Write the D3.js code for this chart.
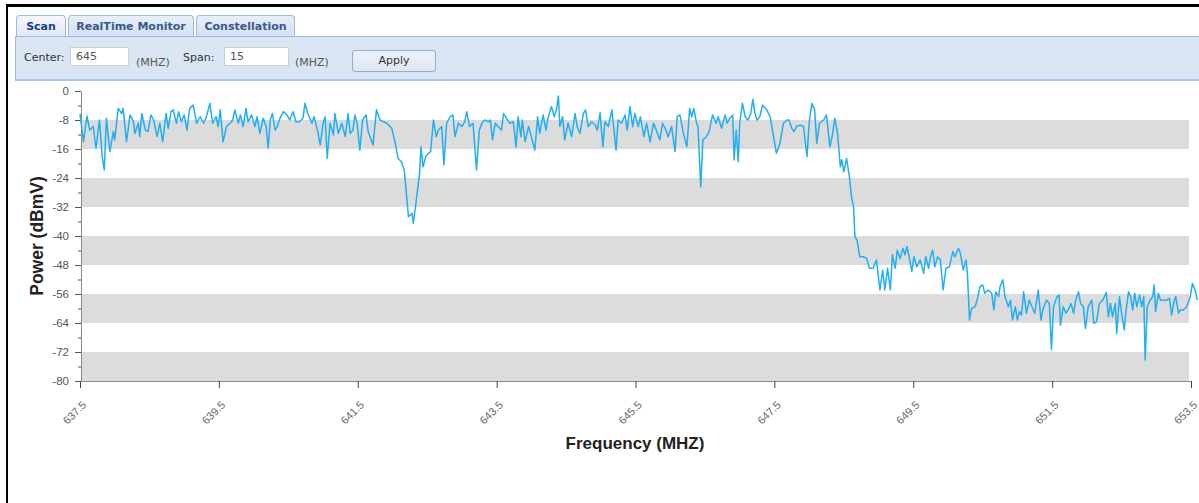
<!DOCTYPE html>
<html>
<head>
<meta charset="utf-8">
<script src="https://cdn.jsdelivr.net/npm/d3@7"></script>
<style>
  body { margin: 0; background: #fff; width: 1199px; height: 503px; overflow: hidden; position: relative; font-family: "DejaVu Sans", Verdana, sans-serif; }
  #frame { position: absolute; left: 6px; top: 4px; width: 1193px; height: 499px; border-top: 3px solid #000; border-left: 2px solid #000; box-sizing: border-box; }
  .tab { position: absolute; top: 15px; height: 21px; border: 1px solid #99bbe8; border-bottom: none; border-radius: 4px 4px 0 0;
         background: linear-gradient(#e8eff8, #d3e1f2); color: #3a5a8a; font-weight: bold; font-size: 11px; text-align: center; line-height: 21px; box-sizing: border-box; }
  .tab.active { background: linear-gradient(#f4f7fc, #dfe8f6); color: #15428b; height: 22px; }
  #toolbar { position: absolute; left: 15px; top: 36px; width: 1184px; height: 45px; background: linear-gradient(#dbe6f4, #d9e5f4);
             border-top: 1px solid #99bbe8; border-bottom: 2px solid #a9c6ec; border-left: 1px solid #99bbe8; box-sizing: border-box; }
  .lbl { position: absolute; font-size: 11px; color: #333; }
  .inp { position: absolute; height: 19px; background: #fff; border: 1px solid #c5cfdc; box-sizing: border-box; font-size: 11px; color: #555; padding-left: 5px; line-height: 17px; }
  #apply { position: absolute; left: 336px; top: 13px; width: 84px; height: 22px; border: 1px solid #8eafd6; border-radius: 3px;
           background: linear-gradient(#eef3fa, #dce6f3); font-size: 11px; color: #333; text-align: center; line-height: 20px; box-sizing: border-box; }
  svg { position: absolute; left: 0; top: 0; }
</style>
</head>
<body>
<div id="frame"></div>
<div class="tab active" style="left:16px;width:50px;">Scan</div>
<div class="tab" style="left:68px;width:126px;">RealTime Monitor</div>
<div class="tab" style="left:196px;width:99px;">Constellation</div>
<div id="toolbar">
  <span class="lbl" style="left:8px;top:14px;">Center:</span>
  <div class="inp" style="left:54px;top:10px;width:59px;">645</div>
  <span class="lbl" style="left:120px;top:19px;color:#555;">(MHZ)</span>
  <span class="lbl" style="left:167px;top:14px;">Span:</span>
  <div class="inp" style="left:208px;top:10px;width:65px;">15</div>
  <span class="lbl" style="left:279px;top:19px;color:#555;">(MHZ)</span>
  <div id="apply">Apply</div>
</div>
<div id="chart"></div>
<script>
// spectrum scan
var freqMHz = [
  637.50,637.55,637.60,637.64,637.69,637.73,637.78,637.82,637.85,637.88,637.93,637.98,638.00,638.05,638.10,638.12,638.17,638.22,638.27,638.29,
  638.34,638.36,638.39,638.44,638.48,638.52,638.56,638.61,638.65,638.69,638.74,638.77,638.81,638.84,638.89,638.92,638.96,639.00,639.04,639.08,
  639.13,639.18,639.23,639.28,639.32,639.37,639.41,639.46,639.49,639.52,639.56,639.61,639.66,639.70,639.73,639.78,639.81,639.85,639.89,639.92,
  639.97,640.02,640.05,640.09,640.14,640.18,640.21,640.24,640.27,640.31,640.34,640.38,640.43,640.48,640.52,640.57,640.61,640.66,640.71,640.74,
  640.78,640.84,640.87,640.92,640.96,641.00,641.03,641.06,641.10,641.15,641.17,641.22,641.27,641.32,641.36,641.39,641.43,641.46,641.49,641.53,
  641.57,641.62,641.65,641.72,641.77,641.82,641.87,641.92,641.99,642.04,642.08,642.13,642.17,642.20,642.23,642.28,642.30,642.35,642.39,642.41,
  642.44,642.48,642.52,642.55,642.59,642.63,642.66,642.71,642.74,642.78,642.83,642.87,642.90,642.95,643.00,643.04,643.07,643.11,643.16,643.21,
  643.25,643.30,643.33,643.38,643.41,643.44,643.48,643.52,643.57,643.60,643.64,643.69,643.74,643.78,643.81,643.85,643.87,643.91,643.96,644.00,
  644.05,644.09,644.12,644.17,644.21,644.24,644.29,644.33,644.36,644.39,644.41,644.45,644.48,644.53,644.58,644.63,644.66,644.70,644.75,644.78,
  644.82,644.87,644.92,644.95,644.99,645.03,645.06,645.11,645.16,645.18,645.22,645.25,645.30,645.35,645.38,645.42,645.46,645.49,645.54,645.57,
  645.62,645.66,645.71,645.76,645.80,645.85,645.89,645.94,645.97,646.02,646.07,646.10,646.14,646.19,646.24,646.28,646.31,646.34,646.38,646.40,
  646.44,646.47,646.52,646.56,646.61,646.66,646.69,646.74,646.79,646.82,646.86,646.90,646.92,646.95,646.98,647.00,647.04,647.08,647.12,647.16,
  647.19,647.22,647.25,647.29,647.33,647.39,647.44,647.48,647.53,647.58,647.63,647.68,647.71,647.75,647.78,647.82,647.87,647.92,647.97,648.00,
  648.04,648.08,648.11,648.15,648.21,648.25,648.30,648.34,648.37,648.41,648.45,648.47,648.50,648.54,648.58,648.61,648.64,648.66,648.69,648.73,
  648.78,648.83,648.87,648.92,648.97,649.02,649.06,649.09,649.13,649.17,649.20,649.24,649.27,649.31,649.35,649.38,649.41,649.44,649.48,649.51,
  649.55,649.60,649.65,649.68,649.72,649.75,649.78,649.81,649.85,649.89,649.93,649.97,650.02,650.07,650.10,650.15,650.18,650.22,650.26,650.28,
  650.31,650.34,650.39,650.42,650.46,650.50,650.53,650.58,650.63,650.66,650.69,650.73,650.75,650.79,650.82,650.87,650.90,650.93,650.97,651.00,
  651.03,651.06,651.09,651.13,651.17,651.21,651.25,651.30,651.34,651.37,651.42,651.46,651.49,651.52,651.57,651.60,651.62,651.66,651.70,651.73,
  651.77,651.81,651.84,651.88,651.91,651.95,651.98,652.02,652.07,652.10,652.14,652.18,652.23,652.28,652.31,652.34,652.37,652.41,652.43,652.47,
  652.50,652.54,652.56,652.60,652.63,652.66,652.69,652.72,652.76,652.79,652.82,652.84,652.87,652.91,652.95,652.97,652.99,653.03,653.06,653.10,
  653.15,653.19,653.22,653.26,653.28,653.32,653.35,653.39,653.44,653.49,653.52,653.56,653.59
];
var powerDbmv = [
  -6.3,-14.0,-6.9,-10.8,-9.8,-15.8,-8.0,-18.1,-21.8,-7.5,-16.7,-11.2,-13.5,-4.8,-6.2,-4.8,-14.0,-6.6,-8.5,-11.7,
  -8.9,-12.6,-6.2,-10.8,-11.2,-6.6,-8.0,-12.6,-8.9,-14.0,-6.2,-10.3,-5.7,-5.2,-8.9,-5.7,-8.5,-6.6,-10.8,-4.8,
  -3.9,-8.9,-7.1,-8.9,-7.1,-3.4,-8.9,-7.1,-9.8,-5.2,-14.0,-9.8,-8.9,-8.0,-5.2,-8.9,-6.6,-9.8,-4.8,-8.5,
  -6.6,-9.8,-7.1,-11.7,-7.5,-9.8,-15.8,-8.0,-6.2,-10.8,-9.8,-7.5,-5.7,-6.6,-8.0,-5.7,-8.5,-8.5,-7.5,-3.4,
  -6.2,-8.9,-7.1,-10.8,-14.9,-8.9,-7.1,-18.6,-8.9,-12.1,-6.2,-11.7,-8.9,-12.6,-6.2,-11.7,-10.8,-6.6,-8.9,-16.3,
  -8.0,-6.6,-11.2,-14.9,-5.2,-8.0,-8.5,-8.9,-10.3,-14.4,-18.6,-19.5,-21.8,-28.2,-34.7,-33.7,-36.5,-29.1,-22.7,-15.4,
  -20.9,-18.1,-17.2,-16.7,-8.0,-12.6,-10.8,-9.8,-20.4,-8.9,-7.1,-6.6,-12.6,-8.9,-9.8,-8.5,-5.7,-9.8,-8.9,-21.8,
  -10.8,-8.5,-8.0,-8.5,-8.0,-13.5,-8.9,-9.8,-10.8,-6.2,-7.5,-8.9,-8.5,-15.4,-7.1,-12.6,-8.0,-14.0,-9.8,-12.6,
  -16.3,-7.1,-11.7,-6.6,-10.8,-7.5,-4.3,-7.1,-5.2,-1.4,-9.8,-7.1,-13.5,-8.9,-12.6,-6.2,-9.8,-11.7,-6.2,-5.2,
  -9.8,-8.5,-9.4,-10.8,-6.0,-15.4,-8.5,-9.8,-5.2,-8.9,-16.3,-8.0,-8.9,-6.6,-10.8,-4.3,-9.8,-6.2,-9.8,-7.1,
  -12.6,-8.9,-14.0,-8.9,-10.8,-13.5,-8.9,-10.8,-12.6,-9.8,-16.7,-7.1,-6.6,-11.7,-15.4,-4.8,-7.1,-4.8,-8.9,-9.8,
  -26.4,-13.5,-12.6,-11.2,-6.6,-8.9,-7.1,-10.3,-6.6,-8.9,-7.5,-6.6,-19.0,-10.8,-19.5,-8.9,-3.4,-7.1,-8.0,-6.2,
  -2.3,-6.2,-8.0,-7.1,-3.9,-5.2,-7.1,-11.7,-17.2,-14.4,-8.9,-8.0,-8.0,-10.3,-11.2,-9.8,-9.4,-9.8,-18.1,-8.9,
  -3.4,-5.2,-14.4,-8.9,-8.0,-6.6,-15.4,-11.7,-7.5,-11.7,-20.9,-19.0,-22.3,-18.6,-23.6,-29.1,-31.9,-40.2,-41.1,-45.7,
  -45.7,-46.2,-48.9,-48.9,-46.6,-54.9,-49.4,-54.9,-48.9,-54.9,-45.2,-48.9,-43.9,-46.2,-43.4,-45.2,-42.9,-45.7,-49.8,-45.7,
  -48.5,-46.6,-50.3,-45.7,-48.9,-45.7,-43.9,-48.5,-45.7,-46.6,-54.9,-48.9,-48.5,-44.3,-45.7,-43.4,-44.8,-49.4,-46.6,-50.3,
  -63.2,-60.0,-59.5,-57.7,-54.0,-53.5,-55.8,-54.9,-55.8,-60.4,-55.4,-56.7,-54.0,-52.1,-56.7,-59.5,-57.7,-63.2,-59.5,-63.2,
  -60.9,-61.8,-55.4,-61.3,-57.7,-59.5,-61.3,-54.9,-63.2,-60.0,-57.7,-58.6,-71.3,-59.5,-56.7,-56.3,-64.6,-59.5,-61.3,-60.4,
  -58.6,-61.3,-57.7,-55.4,-58.6,-59.5,-65.5,-59.5,-57.7,-64.1,-63.6,-58.6,-57.7,-55.6,-62.3,-58.6,-62.3,-58.6,-66.9,-56.7,
  -61.3,-65.9,-61.3,-55.4,-56.7,-60.4,-55.8,-59.5,-56.3,-59.5,-56.7,-74.2,-59.5,-57.7,-56.7,-53.5,-60.9,-55.8,-57.7,-57.7,
  -57.7,-57.2,-61.8,-57.7,-56.7,-61.3,-60.4,-60.4,-59.5,-56.7,-53.1,-54.9,-57.7
];
var xTicks = [637.5, 639.5, 641.5, 643.5, 645.5, 647.5, 649.5, 651.5, 653.5];
var yTicks = [0, -4, -8, -12, -16, -20, -24, -28, -32, -36, -40, -44, -48, -52, -56, -60, -64, -68, -72, -76, -80];
var bandTops = [-8, -24, -40, -56, -72];

var data = freqMHz.map(function(f, i) { return [f, powerDbmv[i]]; });

var svg = d3.select("#chart").append("svg")
    .attr("width", 1199)
    .attr("height", 503);

var x = d3.scaleLinear().domain([637.5, 653.5]).range([80, 1191]);
var y = d3.scaleLinear().domain([0, -80]).range([91, 381]);

// grey stripes
svg.append("g").selectAll("rect")
  .data(bandTops)
  .enter().append("rect")
    .attr("x", x(637.5) + 1)
    .attr("y", function(d) { return y(d); })
    .attr("width", x(653.5) - x(637.5) - 3)
    .attr("height", function(d) { return y(d - 8) - y(d); })
    .attr("fill", "#dcdcdc");

// y axis
var yAxis = svg.append("g")
    .attr("transform", "translate(81,0)")
    .call(d3.axisLeft(y).tickValues(yTicks).tickSize(6).tickSizeOuter(0).tickPadding(6)
      .tickFormat(function(d) { return d % 8 === 0 ? d : ""; }));
yAxis.selectAll(".tick line")
    .attr("x2", function(d) { return d % 8 === 0 ? -6 : -3; })
    .attr("stroke", "#555");
yAxis.select(".domain").attr("stroke", "#888");
yAxis.selectAll("text")
    .style("font-family", "'Liberation Sans', Arial, sans-serif")
    .style("font-size", "11.5px")
    .attr("fill", "#555");

// x axis
var xAxis = svg.append("g")
    .attr("transform", "translate(0,381)")
    .call(d3.axisBottom(x).tickValues(xTicks).tickSize(7).tickSizeOuter(0)
      .tickFormat(d3.format(".1f")));
xAxis.select(".domain").attr("stroke", "#888");
xAxis.selectAll(".tick line").attr("stroke", "#444");
xAxis.selectAll("text")
    .attr("transform", "translate(-6,12)rotate(-45)")
    .style("text-anchor", "end")
    .style("font-family", "'Liberation Sans', Arial, sans-serif")
    .style("font-size", "11px")
    .attr("fill", "#666");

// the trace
var line = d3.line()
    .x(function(d) { return x(d[0]); })
    .y(function(d) { return y(d[1]); });

svg.append("path")
    .datum(data)
    .attr("fill", "none")
    .attr("stroke", "#22aef2")
    .attr("stroke-width", 1.5)
    .attr("stroke-linejoin", "round")
    .attr("d", line);

// labels
svg.append("text")
    .attr("text-anchor", "middle")
    .attr("x", 635)
    .attr("y", 449)
    .text("Frequency (MHZ)")
    .style("font-family", "'Liberation Sans', Arial, sans-serif")
    .style("font-weight", "bold")
    .style("font-size", "17px")
    .attr("fill", "#222");

svg.append("text")
    .attr("text-anchor", "middle")
    .attr("transform", "translate(43,236)rotate(-90)")
    .text("Power (dBmV)")
    .style("font-family", "'Liberation Sans', Arial, sans-serif")
    .style("font-weight", "bold")
    .style("font-size", "17.5px")
    .attr("fill", "#222");
</script>
</body>
</html>
